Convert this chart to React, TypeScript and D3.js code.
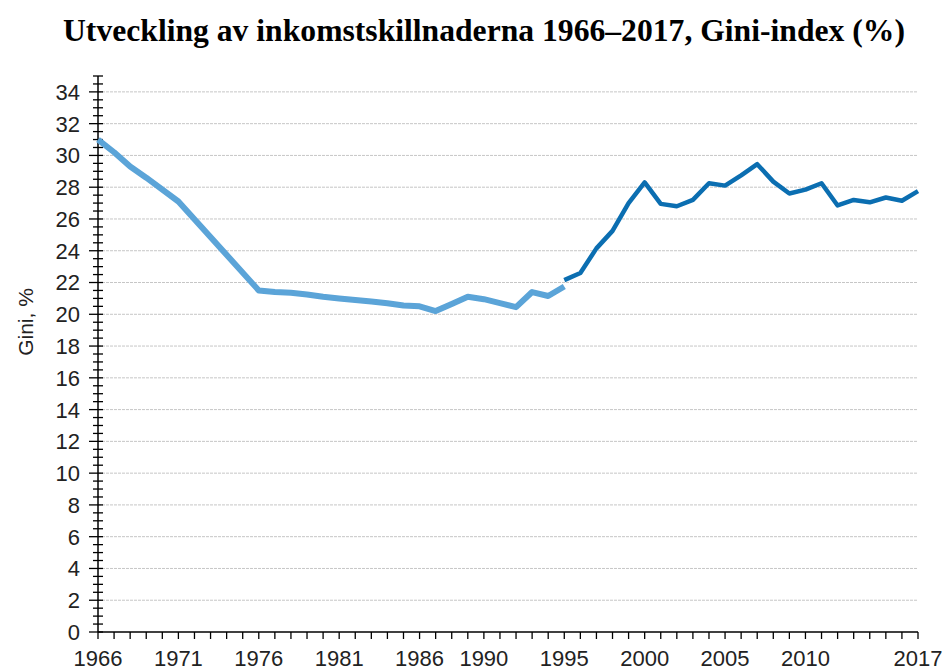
import React, { useEffect, useRef } from 'react'
import * as d3 from 'd3'

// äldre serie (ljusblå)
const oldYears = [1966, 1967, 1968, 1969, 1971, 1976, 1977, 1978, 1979, 1980, 1981, 1982, 1983, 1984, 1985, 1986, 1987, 1988, 1989, 1990, 1991, 1992, 1993, 1994, 1995]
const oldGini = [31.0, 30.2, 29.3, 28.6, 27.1, 21.5, 21.4, 21.35, 21.25, 21.1, 21.0, 20.9, 20.8, 20.7, 20.55, 20.5, 20.2, 20.65, 21.1, 20.95, 20.7, 20.45, 21.4, 21.15, 21.75]

// nyare serie (mörkblå)
const newYears = [1995, 1996, 1997, 1998, 1999, 2000, 2001, 2002, 2003, 2004, 2005, 2006, 2007, 2008, 2009, 2010, 2011, 2012, 2013, 2014, 2015, 2016, 2017]
const newGini = [22.15, 22.6, 24.15, 25.25, 27.0, 28.3, 26.95, 26.8, 27.2, 28.25, 28.1, 28.75, 29.45, 28.35, 27.6, 27.85, 28.25, 26.85, 27.2, 27.05, 27.35, 27.15, 27.75]

const xTickLabels = [1966, 1971, 1976, 1981, 1986, 1990, 1995, 2000, 2005, 2010, 2017]
const yTickLabels = [0, 2, 4, 6, 8, 10, 12, 14, 16, 18, 20, 22, 24, 26, 28, 30, 32, 34]

const title = 'Utveckling av inkomstskillnaderna 1966–2017, Gini-index (%)'
const yTitle = 'Gini, %'

export default function App() {
  const ref = useRef<SVGSVGElement>(null)

  useEffect(() => {
    const svg = d3.select(ref.current)
    svg.selectAll('*').remove()

    const x = d3.scaleLinear().domain([1966, 2017]).range([98, 918])
    const y = d3.scaleLinear().domain([0, 35]).range([632, 76])

    // titel
    svg.append('text')
      .attr('x', 484).attr('y', 41)
      .attr('text-anchor', 'middle')
      .attr('font-family', '"Liberation Serif", "Times New Roman", serif')
      .attr('font-weight', 'bold')
      .attr('font-size', 31)
      .attr('textLength', 842)
      .attr('lengthAdjust', 'spacingAndGlyphs')
      .attr('fill', '#000')
      .text(title)

    // rutnät
    svg.append('g')
      .selectAll('line')
      .data(yTickLabels.filter(d => d > 0))
      .join('line')
      .attr('x1', x(1966)).attr('x2', x(2017))
      .attr('y1', d => y(d)).attr('y2', d => y(d))
      .attr('stroke', '#c6c6c6')
      .attr('stroke-dasharray', '3,1')

    // y-axel
    const minorY = d3.range(0, 35.01, 0.5)
    const ya = svg.append('g')
    ya.append('line')
      .attr('x1', x(1966)).attr('x2', x(1966))
      .attr('y1', y(35)).attr('y2', y(0))
      .attr('stroke', '#000').attr('stroke-width', 1.5)
    ya.selectAll('line.tick')
      .data(minorY)
      .join('line')
      .attr('class', 'tick')
      .attr('x1', d => x(1966) - (d % 2 === 0 ? 9 : 5))
      .attr('x2', x(1966) + 5)
      .attr('y1', d => y(d)).attr('y2', d => y(d))
      .attr('stroke', '#000').attr('stroke-width', 1.3)
    ya.selectAll('text')
      .data(yTickLabels)
      .join('text')
      .attr('x', 80)
      .attr('y', d => y(d))
      .attr('dy', '0.36em')
      .attr('text-anchor', 'end')
      .attr('font-family', '"Liberation Sans", Arial, sans-serif')
      .attr('font-size', 22)
      .attr('fill', '#222')
      .text(d => d)

    svg.append('text')
      .attr('transform', `translate(33,${322}) rotate(-90)`)
      .attr('text-anchor', 'middle')
      .attr('font-family', '"Liberation Sans", Arial, sans-serif')
      .attr('font-size', 21)
      .attr('fill', '#222')
      .text(yTitle)

    // x-axel
    const xa = svg.append('g')
    xa.append('line')
      .attr('x1', x(1966)).attr('x2', x(2017))
      .attr('y1', y(0)).attr('y2', y(0))
      .attr('stroke', '#000').attr('stroke-width', 1.5)
    xa.selectAll('line.tick')
      .data(d3.range(1966, 2018))
      .join('line')
      .attr('class', 'tick')
      .attr('x1', d => x(d)).attr('x2', d => x(d))
      .attr('y1', y(0)).attr('y2', y(0) + 7)
      .attr('stroke', '#000').attr('stroke-width', 1.3)
    xa.selectAll('text')
      .data(xTickLabels)
      .join('text')
      .attr('x', d => x(d))
      .attr('y', 666)
      .attr('text-anchor', 'middle')
      .attr('font-family', '"Liberation Sans", Arial, sans-serif')
      .attr('font-size', 22)
      .attr('fill', '#222')
      .text(d => d)

    // linjer
    const line = d3.line<[number, number]>()
      .x(d => x(d[0]))
      .y(d => y(d[1]))

    svg.append('path')
      .datum(oldYears.map((yr, i) => [yr, oldGini[i]] as [number, number]))
      .attr('d', line)
      .attr('fill', 'none')
      .attr('stroke', '#5ba4d8')
      .attr('stroke-width', 6)
      .attr('stroke-linejoin', 'round')

    svg.append('path')
      .datum(newYears.map((yr, i) => [yr, newGini[i]] as [number, number]))
      .attr('d', line)
      .attr('fill', 'none')
      .attr('stroke', '#0b6eb1')
      .attr('stroke-width', 4.5)
      .attr('stroke-linejoin', 'round')
  }, [])

  return (
    <svg ref={ref} width={948} height={671}
      style={{ position: 'absolute', left: 0, top: 0, background: '#fff' }} />
  )
}
